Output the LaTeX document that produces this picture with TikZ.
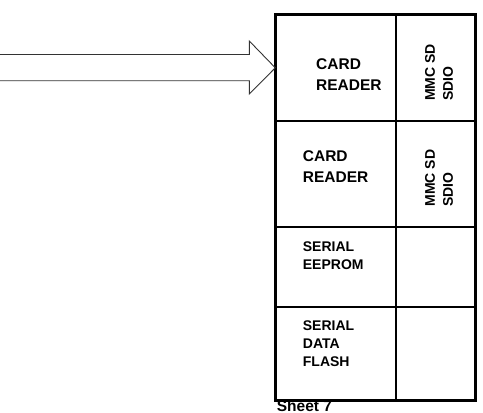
\documentclass[tikz,border=0pt]{standalone}
\usepackage{fontspec}
\setmainfont{Liberation Sans}
\usetikzlibrary{positioning,calc}
\tikzset{
  cellbox/.style={draw, line width=0.9pt, inner sep=0pt, anchor=north west},
  outerbox/.style={draw, line width=3pt},
  celltext/.style={anchor=west, inner sep=0pt, align=left, font=\bfseries\fontsize{14}{18}\selectfont},
  bigtext/.style={celltext, font=\bfseries\fontsize{15.5}{20.7}\selectfont},
  sidetext/.style={celltext, rotate=90, font=\bfseries\fontsize{14}{18}\selectfont},
  busarrow/.style={draw=black!80, line width=0.9pt, line join=miter}
}
\begin{document}
\begin{tikzpicture}[x=1pt,y=-1pt]
\useasboundingbox (0,0) rectangle (483,413);
% cells, left column and right column
\node[cellbox, minimum width=119.4pt, minimum height=105.3pt] (cr1) at (275.3,14.7) {};
\node[cellbox, minimum width=79.3pt, minimum height=105.3pt] (cr1x) at (cr1.north east) {};
\node[cellbox, minimum width=119.4pt, minimum height=105.3pt] (cr2) at (cr1.south west) {};
\node[cellbox, minimum width=79.3pt, minimum height=105.3pt] (cr2x) at (cr2.north east) {};
\node[cellbox, minimum width=119.4pt, minimum height=78.7pt] (eep) at (cr2.south west) {};
\node[cellbox, minimum width=79.3pt, minimum height=78.7pt] (eepx) at (eep.north east) {};
\node[cellbox, minimum width=119.4pt, minimum height=92.7pt] (flash) at (eep.south west) {};
\node[cellbox, minimum width=79.3pt, minimum height=92.7pt] (flashx) at (flash.north east) {};
\draw[outerbox] (cr1.north west) rectangle (flashx.south east);
% labels
\node[bigtext] (crtext1) at (316,74.6) {CARD\\READER};
\node[bigtext] (crtext2) at (302.7,166.3) {CARD\\READER};
\node[celltext] (eeptext) at (302.7,256) {SERIAL\\EEPROM};
\node[celltext] (flashtext) at (302.7,343.4) {SERIAL\\DATA\\FLASH};
\node[sidetext] (mmc1) at (439,101) {MMC SD\\SDIO};
\node[sidetext] (mmc2) at (439,206.7) {MMC SD\\SDIO};
\node[anchor=base west, inner sep=0pt, font=\bfseries\fontsize{15.5}{19}\selectfont] (sheet) at (276.7,411) {Sheet 7};
% incoming bus arrow
\coordinate (bustop) at (0,54.5);
\coordinate (busbot) at (0,80.7);
\draw[busarrow] (bustop) -- (249.3,54.5) -- (249.3,41) -- (cr1.west)
  -- (249.3,94) -- (249.3,80.7) -- (busbot);
\end{tikzpicture}
\end{document}
